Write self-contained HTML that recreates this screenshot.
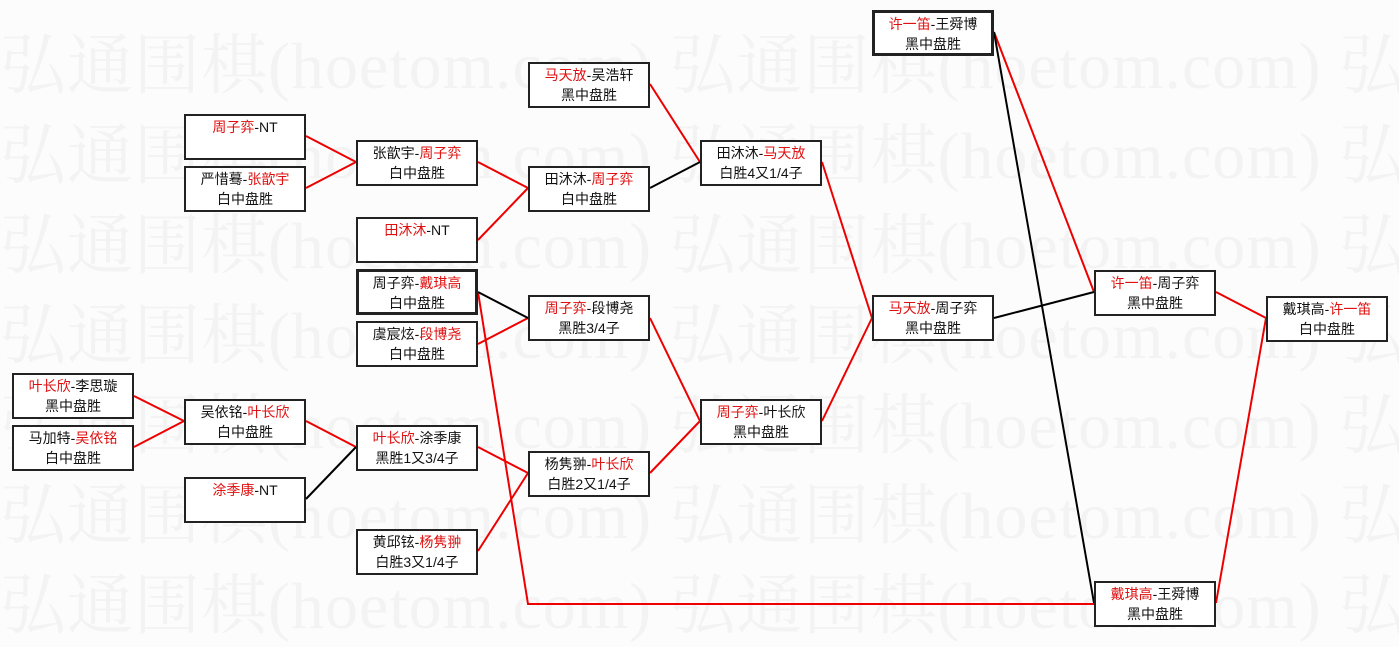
<!DOCTYPE html>
<html><head><meta charset="utf-8"><style>
body{margin:0;width:1399px;height:637px;background:#fcfcfc;position:relative;overflow:hidden;font-family:"Liberation Sans","Noto Sans CJK SC",sans-serif}
.wm{position:absolute;left:0;font-family:"Liberation Serif","Noto Serif CJK SC",serif;font-size:66px;color:#f3f3f3;white-space:nowrap;letter-spacing:1px}
.b{position:absolute;width:118px;height:41px;border:2px solid #222;background:#fff;text-align:center;font-size:14px;line-height:20px;color:#111;padding-top:1px;box-sizing:content-box}
.t{border-width:3px;width:116px;height:39px}
.r{color:#e01010}
svg{position:absolute;left:0;top:0}
</style></head><body>
<div class="wm" style="top:12px">弘通围棋(hoetom.com) 弘通围棋(hoetom.com) 弘通</div>
<div class="wm" style="top:102px">弘通围棋(hoetom.com) 弘通围棋(hoetom.com) 弘通</div>
<div class="wm" style="top:192px">弘通围棋(hoetom.com) 弘通围棋(hoetom.com) 弘通</div>
<div class="wm" style="top:282px">弘通围棋(hoetom.com) 弘通围棋(hoetom.com) 弘通</div>
<div class="wm" style="top:372px">弘通围棋(hoetom.com) 弘通围棋(hoetom.com) 弘通</div>
<div class="wm" style="top:462px">弘通围棋(hoetom.com) 弘通围棋(hoetom.com) 弘通</div>
<div class="wm" style="top:552px">弘通围棋(hoetom.com) 弘通围棋(hoetom.com) 弘通</div>
<svg width="1399" height="637" stroke-width="2" fill="none">
<g stroke="#e00">
<path d="M306 136L356 162M306 188L356 162M478 162L528 188M478 240L528 188M650 84L700 162M478 344L528 318M134 396L184 421M134 447L184 421M306 421L356 447M478 447L528 473M478 551L528 473M650 318L700 421M650 473L700 421M822 162L872 318M822 421L872 318M994 32L1094 292M1216 292L1266 318M1216 603L1266 318M478 292L528 604L1094 604"/>
</g>
<g stroke="#000">
<path d="M650 188L700 162M478 292L528 318M306 499L356 447M994 318L1094 292M994 32L1094 603"/>
</g>
</svg>
<div class="b" style="left:184px;top:114px"><span class="r">周子弈</span>-NT</div>
<div class="b" style="left:184px;top:166px">严惜蓦-<span class="r">张歆宇</span><br>白中盘胜</div>
<div class="b" style="left:356px;top:140px">张歆宇-<span class="r">周子弈</span><br>白中盘胜</div>
<div class="b" style="left:356px;top:217px"><span class="r">田沐沐</span>-NT</div>
<div class="b t" style="left:356px;top:269px">周子弈-<span class="r">戴琪高</span><br>白中盘胜</div>
<div class="b" style="left:356px;top:321px">虞宸炫-<span class="r">段博尧</span><br>白中盘胜</div>
<div class="b" style="left:528px;top:62px"><span class="r">马天放</span>-吴浩轩<br>黑中盘胜</div>
<div class="b" style="left:528px;top:166px">田沐沐-<span class="r">周子弈</span><br>白中盘胜</div>
<div class="b" style="left:528px;top:295px"><span class="r">周子弈</span>-段博尧<br>黑胜3/4子</div>
<div class="b" style="left:528px;top:451px">杨隽翀-<span class="r">叶长欣</span><br>白胜2又1/4子</div>
<div class="b" style="left:356px;top:529px">黄邱铉-<span class="r">杨隽翀</span><br>白胜3又1/4子</div>
<div class="b" style="left:356px;top:425px"><span class="r">叶长欣</span>-涂季康<br>黑胜1又3/4子</div>
<div class="b" style="left:184px;top:477px"><span class="r">涂季康</span>-NT</div>
<div class="b" style="left:184px;top:399px">吴依铭-<span class="r">叶长欣</span><br>白中盘胜</div>
<div class="b" style="left:12px;top:373px"><span class="r">叶长欣</span>-李思璇<br>黑中盘胜</div>
<div class="b" style="left:12px;top:425px">马加特-<span class="r">吴依铭</span><br>白中盘胜</div>
<div class="b" style="left:700px;top:140px">田沐沐-<span class="r">马天放</span><br>白胜4又1/4子</div>
<div class="b" style="left:700px;top:399px"><span class="r">周子弈</span>-叶长欣<br>黑中盘胜</div>
<div class="b" style="left:872px;top:295px"><span class="r">马天放</span>-周子弈<br>黑中盘胜</div>
<div class="b t" style="left:872px;top:10px"><span class="r">许一笛</span>-王舜博<br>黑中盘胜</div>
<div class="b" style="left:1094px;top:270px"><span class="r">许一笛</span>-周子弈<br>黑中盘胜</div>
<div class="b" style="left:1266px;top:296px">戴琪高-<span class="r">许一笛</span><br>白中盘胜</div>
<div class="b" style="left:1094px;top:581px"><span class="r">戴琪高</span>-王舜博<br>黑中盘胜</div>
</body></html>
